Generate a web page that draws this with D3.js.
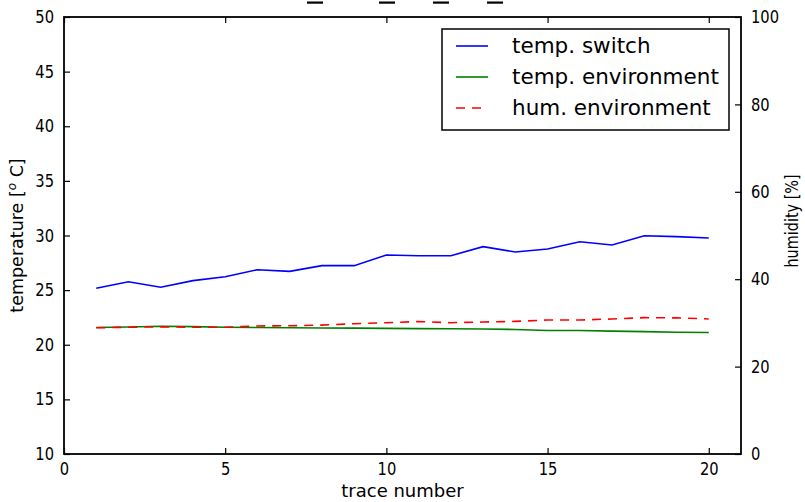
<!DOCTYPE html>
<html lang="en">
<head>
<meta charset="utf-8">
<script type="text/javascript" src="https://cdnjs.cloudflare.com/ajax/libs/d3/7.8.5/d3.min.js"></script>
<style>
    body { margin: 0; background: #fff; }
    text { font-family: "DejaVu Sans", sans-serif; fill: #000; }
</style>
</head>
<body>
<div id="container"></div>
<script type="text/javascript">
    var w = 805;
    var h = 502;

    // trace numbers 1..20
    var traces = [1, 2, 3, 4, 5, 6, 7, 8, 9, 10, 11, 12, 13, 14, 15, 16, 17, 18, 19, 20];
    var tempSwitch = [25.17, 25.77, 25.26, 25.87, 26.23, 26.87, 26.72, 27.24, 27.24, 28.21,
                      28.15, 28.15, 28.98, 28.49, 28.76, 29.43, 29.13, 29.98, 29.90, 29.77];
    var tempEnv = [21.58, 21.62, 21.70, 21.66, 21.60, 21.58, 21.55, 21.53, 21.52, 21.50,
                   21.48, 21.46, 21.44, 21.40, 21.30, 21.30, 21.25, 21.20, 21.15, 21.12];
    var humEnv = [28.9, 29.0, 29.1, 29.0, 29.0, 29.3, 29.35, 29.5, 29.8, 30.05,
                  30.3, 30.05, 30.2, 30.35, 30.66, 30.66, 30.9, 31.2, 31.15, 30.9];

    var xTicks = [0, 5, 10, 15, 20];
    var yLeftTicks = [10, 15, 20, 25, 30, 35, 40, 45, 50];
    var yRightTicks = [0, 20, 40, 60, 80, 100];
    var legendLabels = ["temp. switch", "temp. environment", "hum. environment"];

    var pl = 64, pr = 741, pt = 17, pb = 454;

    var svg = d3.select("#container")
                .append("svg")
                .attr("width", w)
                .attr("height", h);

    var xscale = d3.scaleLinear().domain([0, 21]).range([pl, pr]);
    var yleft = d3.scaleLinear().domain([10, 50]).range([pb, pt]);
    var yright = d3.scaleLinear().domain([0, 100]).range([pb, pt]);

    // squeeze text horizontally a bit (the reference glyphs are narrow)
    function squeeze(sel, k) {
        sel.each(function() {
            var len = this.getComputedTextLength();
            d3.select(this).attr("textLength", len * k).attr("lengthAdjust", "spacingAndGlyphs");
        });
    }

    var tickLen = 6;
    var tickFont = 17.5;

    // bottom axis
    var xAxisB = d3.axisBottom(xscale).tickValues(xTicks).tickSizeInner(-tickLen).tickSizeOuter(0).tickPadding(9);
    var gxb = svg.append("g").attr("transform", "translate(0," + pb + ")").call(xAxisB);
    // top axis (ticks only)
    var xAxisT = d3.axisTop(xscale).tickValues(xTicks).tickSizeInner(-tickLen).tickSizeOuter(0).tickFormat("");
    var gxt = svg.append("g").attr("transform", "translate(0," + pt + ")").call(xAxisT);
    // left axis
    var yAxisL = d3.axisLeft(yleft).tickValues(yLeftTicks).tickSizeInner(-tickLen).tickSizeOuter(0).tickPadding(10);
    var gyl = svg.append("g").attr("transform", "translate(" + pl + ",0)").call(yAxisL);
    // right axis
    var yAxisR = d3.axisRight(yright).tickValues(yRightTicks).tickSizeInner(-tickLen).tickSizeOuter(0).tickPadding(10);
    var gyr = svg.append("g").attr("transform", "translate(" + pr + ",0)").call(yAxisR);

    [gxb, gxt, gyl, gyr].forEach(function(g) {
        g.select(".domain").remove();
        g.selectAll(".tick line").attr("stroke", "#000").attr("stroke-width", 1.2);
        g.selectAll(".tick text").attr("font-family", "DejaVu Sans").attr("font-size", tickFont).attr("fill", "#000");
        squeeze(g.selectAll(".tick text"), 0.84);
    });

    // series
    var series = [
        { values: tempSwitch, y: yleft, color: "#0000ff", dash: null },
        { values: tempEnv, y: yleft, color: "#008000", dash: null },
        { values: humEnv, y: yright, color: "#ff0000", dash: "9,7" }
    ];

    series.forEach(function(s) {
        var line = d3.line()
                     .x(function(d, i) { return xscale(traces[i]); })
                     .y(function(d) { return s.y(d); });
        svg.append("path")
           .datum(s.values)
           .attr("d", line)
           .attr("fill", "none")
           .attr("stroke", s.color)
           .attr("stroke-width", 1.6)
           .attr("stroke-dasharray", s.dash);
    });

    // frame
    svg.append("rect")
       .attr("x", pl).attr("y", pt)
       .attr("width", pr - pl).attr("height", pb - pt)
       .attr("fill", "none").attr("stroke", "#000").attr("stroke-width", 1.8);

    // legend
    var lg = svg.append("g").attr("transform", "translate(442,29)");
    lg.append("rect").attr("width", 287).attr("height", 101)
      .attr("fill", "#fff").attr("stroke", "#000").attr("stroke-width", 1.5);
    legendLabels.forEach(function(lab, i) {
        var cy = 17 + i * 31;
        lg.append("line")
          .attr("x1", 14).attr("x2", 46).attr("y1", cy).attr("y2", cy)
          .attr("stroke", series[i].color).attr("stroke-width", 1.6)
          .attr("stroke-dasharray", series[i].dash);
        lg.append("text").attr("x", 70).attr("y", cy + 7)
          .attr("font-size", 21.5).text(lab);
    });

    // axis labels
    svg.append("text").attr("x", (pl + pr) / 2).attr("y", 497)
       .attr("text-anchor", "middle").attr("font-size", 18).text("trace number");

    var yl = svg.append("text")
       .attr("transform", "translate(23," + (pt + pb) / 2 + ") rotate(-90)")
       .attr("text-anchor", "middle").attr("font-size", 17.5);
    yl.append("tspan").text("temperature [");
    yl.append("tspan").attr("font-size", 12).attr("font-style", "italic").attr("dy", -7).text("o");
    yl.append("tspan").attr("dy", 7).text(" C]");

    var yr = svg.append("text")
       .attr("transform", "translate(798,221) rotate(-90)")
       .attr("text-anchor", "middle").attr("font-size", 18).text("humidity [%]");
    squeeze(yr, 0.8);

    // cut-off title: only the underscores reach into the picture
    var titleBars = [307, 379, 433, 487];
    svg.selectAll(".tbar").data(titleBars).enter().append("rect")
       .attr("class", "tbar")
       .attr("x", function(d) { return d; })
       .attr("y", 1.5).attr("width", 16).attr("height", 2.2).attr("fill", "#000");
</script>
</body>
</html>
